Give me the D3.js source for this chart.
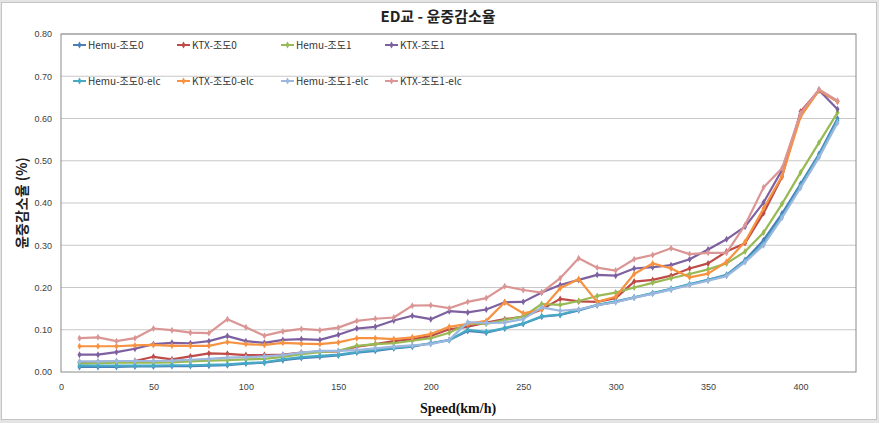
<!DOCTYPE html>
<html><head><meta charset="utf-8">
<script src="https://cdn.jsdelivr.net/npm/d3@7"></script>
<style>body{margin:0;background:#fff;}svg{display:block;}</style>
</head><body><svg id="c" width="879" height="423"></svg>
<script>
const speeds = d3.range(10, 421, 10);
const xTicks = [0,50,100,150,200,250,300,350,400];
const yTicks = [0,0.1,0.2,0.3,0.4,0.5,0.6,0.7,0.8];
const seriesNames = ["Hemu-조도0","KTX-조도0","Hemu-조도1","KTX-조도1","Hemu-조도0-elc","KTX-조도0-elc","Hemu-조도1-elc","KTX-조도1-elc"];
const seriesColors = ["#4A7EBB","#BE4B48","#98B954","#7D60A0","#46AAC5","#F69240","#9BB7DD","#DA9694"];

const hemu0 = [0.012,0.012,0.012,0.013,0.013,0.014,0.014,0.015,0.016,0.020,0.022,0.028,0.033,0.036,0.039,
  0.046,0.050,0.056,0.060,0.068,0.076,0.097,0.093,0.103,0.114,0.131,
  0.135,0.146,0.158,0.166,0.176,0.186,0.196,0.207,0.218,
  0.230,0.265,0.312,0.375,0.445,0.516,0.600];
const ktx0 = [0.023,0.024,0.025,0.026,0.036,0.030,0.037,0.044,0.043,0.040,0.040,0.041,0.046,0.048,0.049,
  0.060,0.066,0.073,0.078,0.085,0.101,0.107,0.117,0.125,0.131,0.148,
  0.173,0.167,0.166,0.175,0.214,0.218,0.228,0.245,0.257,
  0.285,0.305,0.376,0.462,0.616,0.667,0.640];
const hemu1 = [0.020,0.021,0.022,0.022,0.022,0.023,0.025,0.027,0.028,0.030,0.031,0.036,0.042,0.047,0.050,
  0.062,0.066,0.068,0.074,0.080,0.093,0.115,0.114,0.123,0.131,0.161,
  0.159,0.168,0.180,0.188,0.200,0.211,0.222,0.232,0.243,
  0.257,0.285,0.330,0.398,0.472,0.543,0.614];
const ktx1 = [0.041,0.041,0.047,0.055,0.066,0.069,0.068,0.073,0.085,0.073,0.069,0.076,0.078,0.076,0.088,
  0.103,0.107,0.122,0.133,0.125,0.144,0.141,0.148,0.165,0.166,0.188,
  0.206,0.218,0.230,0.228,0.245,0.248,0.253,0.267,0.290,
  0.314,0.344,0.401,0.478,0.608,0.667,0.622];
const hemu0elc = [0.015,0.015,0.015,0.015,0.015,0.016,0.016,0.017,0.018,0.021,0.023,0.030,0.035,0.038,0.041,
  0.047,0.052,0.057,0.061,0.068,0.075,0.100,0.095,0.104,0.115,0.132,
  0.136,0.147,0.159,0.167,0.177,0.187,0.197,0.208,0.218,
  0.229,0.263,0.303,0.368,0.440,0.512,0.595];
const ktx0elc = [0.061,0.061,0.061,0.063,0.064,0.062,0.062,0.062,0.071,0.066,0.064,0.069,0.067,0.066,0.070,
  0.080,0.080,0.078,0.082,0.090,0.107,0.114,0.121,0.165,0.139,0.148,
  0.198,0.220,0.166,0.178,0.232,0.257,0.245,0.224,0.233,
  0.261,0.308,0.387,0.464,0.604,0.667,0.640];
const hemu1elc = [0.025,0.025,0.026,0.026,0.026,0.027,0.029,0.031,0.034,0.035,0.037,0.040,0.046,0.050,0.050,
  0.052,0.056,0.060,0.063,0.066,0.076,0.118,0.116,0.117,0.125,0.153,
  0.145,0.148,0.158,0.165,0.176,0.185,0.195,0.206,0.216,
  0.227,0.260,0.300,0.365,0.436,0.508,0.590];
const ktx1elc = [0.080,0.082,0.073,0.080,0.103,0.099,0.093,0.092,0.125,0.106,0.086,0.096,0.102,0.099,0.105,
  0.121,0.126,0.129,0.157,0.158,0.151,0.166,0.175,0.203,0.194,0.188,
  0.222,0.269,0.247,0.240,0.267,0.277,0.293,0.279,0.282,
  0.282,0.348,0.437,0.482,0.612,0.669,0.642];
const seriesValues = [hemu0, ktx0, hemu1, ktx1, hemu0elc, ktx0elc, hemu1elc, ktx1elc];

const svg = d3.select("#c");
const KR = "'Noto Sans CJK KR','Noto Sans',sans-serif";
// outer frame
svg.append("rect").attr("x",0).attr("y",0).attr("width",879).attr("height",423).attr("fill","#e4e4e4");
svg.append("rect").attr("x",1.5).attr("y",2.5).attr("width",875).attr("height",417).attr("fill","#fff").attr("stroke","#c4c4c4");

const L=61, R=856, T=34, B=372;
const x = d3.scaleLinear().domain([0,430]).range([L,R]);
const y = d3.scaleLinear().domain([0,0.8]).range([B,T]);

// gridlines
svg.append("g").selectAll("line").data(yTicks.slice(1)).join("line")
  .attr("x1",L).attr("x2",R).attr("y1",d=>y(d)).attr("y2",d=>y(d))
  .attr("stroke","#c8c8c8").attr("stroke-width",1.2);

// axes
const xAxis = svg.append("g").attr("transform",`translate(0,${B})`)
  .call(d3.axisBottom(x).tickValues(xTicks).tickSize(0).tickPadding(12).tickFormat(d3.format("d")));
const yAxis = svg.append("g").attr("transform",`translate(${L},0)`)
  .call(d3.axisLeft(y).tickValues(yTicks).tickSize(0).tickPadding(9).tickFormat(d3.format(".2f")));
[xAxis,yAxis].forEach(g=>{
  g.select(".domain").remove();
  g.selectAll("text").attr("font-family","'Liberation Sans',Arial,sans-serif").attr("font-size",9).attr("fill","#404040");
});

// plot border
svg.append("rect").attr("x",L).attr("y",T).attr("width",R-L).attr("height",B-T)
  .attr("fill","none").attr("stroke","#8a8a8a").attr("stroke-width",1);

// series
const line = d3.line().x((d,i)=>x(speeds[i])).y(d=>y(d));
const sym = d3.symbol().type(d3.symbolDiamond).size(14);
seriesValues.forEach((vals,k)=>{
  const g = svg.append("g");
  g.append("path").datum(vals).attr("d",line).attr("fill","none")
    .attr("stroke",seriesColors[k]).attr("stroke-width",2.2).attr("stroke-linejoin","round");
  g.selectAll("path.m").data(vals).join("path").attr("class","m")
    .attr("d",sym).attr("transform",(d,i)=>`translate(${x(speeds[i])},${y(d)})`)
    .attr("fill",seriesColors[k]);
});

// legend
const lg = svg.append("g");
seriesNames.forEach((n,k)=>{
  const col = k%4, row = Math.floor(k/4);
  const lx = 73 + col*104, ly = row===0 ? 45 : 81;
  lg.append("line").attr("x1",lx).attr("x2",lx+13).attr("y1",ly).attr("y2",ly)
    .attr("stroke",seriesColors[k]).attr("stroke-width",2);
  lg.append("path").attr("d",sym).attr("transform",`translate(${lx+6.5},${ly})`).attr("fill",seriesColors[k]);
  lg.append("text").attr("x",lx+15).attr("y",ly+3.5).text(n)
    .attr("font-family",KR).attr("font-size",10).attr("fill","#333");
});

// titles
svg.append("text").attr("x",438).attr("y",22).attr("text-anchor","middle")
  .attr("font-family",KR).attr("font-weight","bold").attr("font-size",15).attr("fill","#222")
  .text("ED교 - 윤중감소율");
svg.append("text").attr("transform","translate(27,203) rotate(-90)").attr("text-anchor","middle")
  .attr("font-family",KR).attr("font-weight","bold").attr("font-size",14).attr("fill","#222")
  .text("윤중감소율 (%)");
svg.append("text").attr("x",458).attr("y",413).attr("text-anchor","middle")
  .attr("font-family","'Liberation Serif','Times New Roman',serif").attr("font-weight","bold").attr("font-size",14).attr("fill","#111")
  .text("Speed(km/h)");
</script></body></html>
